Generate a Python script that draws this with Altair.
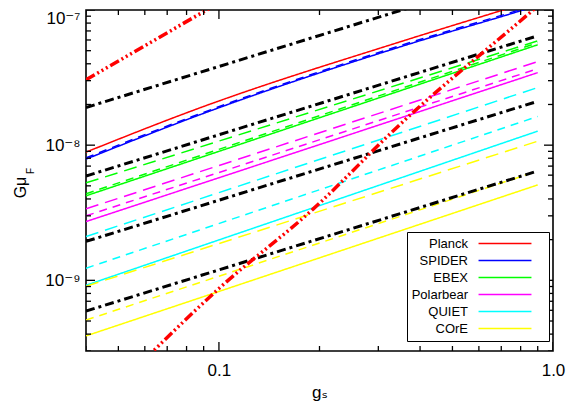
import altair as alt
import pandas as pd

# ---------------- data ----------------
experiments = ["Planck", "SPIDER", "EBEX", "Polarbear", "QUIET", "COrE"]
exp_colors = ["#ff0000", "#0000ff", "#00ff00", "#ff00ff", "#00ffff", "#ffff00"]

line_exp = ["Planck", "SPIDER", "SPIDER",
            "EBEX", "EBEX", "EBEX",
            "Polarbear", "Polarbear", "Polarbear",
            "QUIET", "QUIET", "QUIET",
            "COrE", "COrE", "COrE"]
line_style = ["solid", "solid", "dash",
              "longdash", "dash", "solid",
              "longdash", "dash", "solid",
              "longdash", "dash", "solid",
              "longdash", "dash", "solid"]
line_x = [[0.04, 0.0883, 0.349, 0.709, 0.9],
          [0.04, 0.0883, 0.349, 0.814, 0.9],
          [0.04, 0.0883, 0.349, 0.814, 0.9],
          [0.04, 0.9], [0.04, 0.9], [0.04, 0.9],
          [0.04, 0.9], [0.04, 0.9], [0.04, 0.9],
          [0.04, 0.9], [0.04, 0.9], [0.04, 0.9],
          [0.04, 0.9], [0.04, 0.9], [0.04, 0.9]]
line_y = [[8.88e-9, 1.90e-8, 5.82e-8, 1.0e-7, 1.2e-7],
          [7.88e-9, 1.69e-8, 5.34e-8, 1.0e-7, 1.08e-7],
          [8.05e-9, 1.72e-8, 5.45e-8, 1.02e-7, 1.10e-7],
          [5.26e-9, 5.91e-8], [4.37e-9, 5.72e-8], [4.22e-9, 5.53e-8],
          [3.38e-9, 4.15e-8], [3.00e-9, 3.68e-8], [2.72e-9, 3.44e-8],
          [2.11e-9, 2.67e-8], [1.23e-9, 1.63e-8], [9.19e-10, 1.27e-8],
          [9.04e-10, 1.07e-8], [5.08e-10, 6.44e-9], [3.88e-10, 5.08e-9]]

black_x = [[0.04, 0.9], [0.04, 0.9], [0.04, 0.9], [0.04, 0.9]]
black_y = [[1.90e-8, 2.04e-7], [5.91e-9, 6.44e-8],
           [1.94e-9, 2.11e-8], [5.92e-10, 6.44e-9]]

red_x = [[0.04, 0.1], [0.06, 0.1, 0.192, 0.349, 0.872, 0.9]]
red_y = [[3.05e-8, 1.13e-7], [2.6e-10, 8.7e-10, 3.39e-9, 1.43e-8, 1.0e-7, 1.07e-7]]

x_major = [0.1, 1.0]
x_minor = [0.04, 0.05, 0.06, 0.07, 0.08, 0.09, 0.2, 0.3, 0.4, 0.5, 0.6, 0.7, 0.8, 0.9]
y_major = [1e-9, 1e-8, 1e-7]
y_minor = [3e-10, 4e-10, 5e-10, 6e-10, 7e-10, 8e-10, 9e-10,
           2e-9, 3e-9, 4e-9, 5e-9, 6e-9, 7e-9, 8e-9, 9e-9,
           2e-8, 3e-8, 4e-8, 5e-8, 6e-8, 7e-8, 8e-8, 9e-8]

# ---------------- tables ----------------
rows = []
for i, (e, s, xs, ys) in enumerate(zip(line_exp, line_style, line_x, line_y)):
    for xv, yv in zip(xs, ys):
        rows.append({"id": i, "exp": e, "style": s, "x": xv, "y": yv})
df_col = pd.DataFrame(rows)

rows = []
for i, (xs, ys) in enumerate(zip(black_x, black_y)):
    for xv, yv in zip(xs, ys):
        rows.append({"id": i, "x": xv, "y": yv})
df_black = pd.DataFrame(rows)

rows = []
for i, (xs, ys) in enumerate(zip(red_x, red_y)):
    for xv, yv in zip(xs, ys):
        rows.append({"id": i, "x": xv, "y": yv})
df_red = pd.DataFrame(rows)

W, H = 467, 341
FONT = "Liberation Sans, DejaVu Sans, sans-serif"
xscale = alt.Scale(type="log", domain=[0.04, 1.0], nice=False)
yscale = alt.Scale(type="log", domain=[3e-10, 1e-7], nice=False)

x_axis = alt.Axis(orient="bottom", values=x_major, ticks=False, tickSize=0,
                  domain=False, grid=False,
                  labelExpr="datum.value < 0.5 ? '0.1' : '1.0'",
                  labelFont=FONT, labelFontSize=17, labelPadding=11,
                  labelFlush=False, labelOverlap=False, labelColor="black",
                  title="gₛ", titleFont=FONT, titleFontSize=17,
                  titleFontWeight="normal", titlePadding=6, titleColor="black")
y_axis = alt.Axis(orient="left", values=y_major, ticks=False, tickSize=0,
                  domain=False, grid=False,
                  labelExpr="datum.value > 5e-8 ? '10⁻⁷' : (datum.value > 5e-9 ? '10⁻⁸' : '10⁻⁹')",
                  labelBaseline={"condition": {"test": "datum.value > 5e-8", "value": "top"},
                                 "value": "middle"},
                  labelFont=FONT, labelFontSize=17, labelPadding=6,
                  labelOverlap=False, labelColor="black",
                  title="Gμ", titleFont=FONT, titleFontSize=16,
                  titleFontWeight="normal", titleColor="black",
                  titleAngle=270, titleX=-66, titleY=177,
                  titleAlign="center", titleBaseline="middle")

colored = alt.Chart(df_col).mark_line(clip=True, strokeWidth=1.5,
                                      interpolate="monotone").encode(
    x=alt.X("x:Q", scale=xscale, axis=x_axis),
    y=alt.Y("y:Q", scale=yscale, axis=y_axis),
    color=alt.Color("exp:N",
                    scale=alt.Scale(domain=experiments, range=exp_colors),
                    legend=alt.Legend(orient="none", legendX=321, legendY=222,
                                      title=None, symbolType="M-5,0H5M6.7,0",
                                      symbolSize=112, symbolStrokeWidth=1.5,
                                      symbolOffset=86.5, labelAlign="right",
                                      labelOffset=alt.ExprRef("-43.5"), labelFont=FONT,
                                      labelFontSize=13, labelColor="black",
                                      strokeColor="black", fillColor="white",
                                      padding=5, rowPadding=3)),
    strokeDash=alt.StrokeDash("style:N",
                              scale=alt.Scale(domain=["solid", "dash", "longdash"],
                                              range=[[1, 0], [8, 6], [13, 7]]),
                              legend=None),
    detail="id:N",
)

black = alt.Chart(df_black).mark_line(clip=True, color="black", strokeWidth=3,
                                      strokeDash=[9, 4, 3, 4]).encode(
    x=alt.X("x:Q", scale=xscale, axis=None),
    y=alt.Y("y:Q", scale=yscale, axis=None),
    detail="id:N",
)

red = alt.Chart(df_red).mark_line(clip=True, color="#ff0000", strokeWidth=3.5,
                                  interpolate="monotone",
                                  strokeDash=[10, 3, 2, 3, 2, 3, 2, 3]).encode(
    x=alt.X("x:Q", scale=xscale, axis=None),
    y=alt.Y("y:Q", scale=yscale, axis=None),
    detail="id:N",
)

# inward-pointing frame ticks (clipped to the plot so only the inner half shows)
df_xmaj = pd.DataFrame({"v": x_major})
df_xmin = pd.DataFrame({"v": x_minor})
df_ymaj = pd.DataFrame({"v": y_major})
df_ymin = pd.DataFrame({"v": y_minor})


def xticks(df, size, edge):
    return alt.Chart(df).mark_tick(clip=True, color="black", thickness=1.3,
                                   size=size, opacity=1).encode(
        x=alt.X("v:Q", scale=xscale, axis=None), y=alt.value(edge))


def yticks(df, size, edge):
    return alt.Chart(df).mark_tick(clip=True, color="black", thickness=1.3,
                                   size=size, opacity=1).encode(
        y=alt.Y("v:Q", scale=yscale, axis=None), x=alt.value(edge))


ticks = [xticks(df_xmaj, 18, H), xticks(df_xmin, 10, H),
         xticks(df_xmaj, 18, 0), xticks(df_xmin, 10, 0),
         yticks(df_ymaj, 18, 0), yticks(df_ymin, 10, 0),
         yticks(df_ymaj, 18, W), yticks(df_ymin, 10, W)]

# subscript F of the y title
sub_f = alt.Chart(pd.DataFrame({"t": ["F"]})).mark_text(
    text="F", font=FONT, fontSize=10, angle=270, color="black",
    align="center", baseline="middle").encode(x=alt.value(-55), y=alt.value(161))

chart = alt.layer(colored, black, red, *ticks, sub_f).resolve_axis(
    x="independent", y="independent"
).properties(
    width=W, height=H,
    background="white",
    autosize=alt.AutoSizeParams(type="none"),
    padding={"left": 78, "top": 2, "right": 15, "bottom": 57},
).configure_view(stroke="black", strokeWidth=1.6)

chart.save("out.html", embed_options={"renderer": "svg", "actions": False})
